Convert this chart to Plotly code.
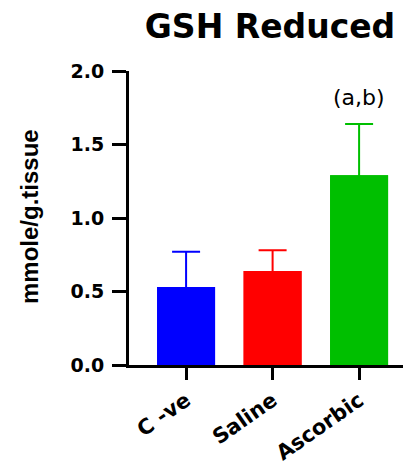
import plotly.graph_objects as go

categories = ["C -ve", "Saline", "Ascorbic"]
means = [0.53, 0.64, 1.29]
errors = [0.24, 0.14, 0.35]
colors = ["#0000FF", "#FF0000", "#00BF00"]
y_ticks = [0.0, 0.5, 1.0, 1.5, 2.0]
y_tick_text = ["0.0", "0.5", "1.0", "1.5", "2.0"]
title_text = "GSH Reduced"
y_title = "mmole/g.tissue"
sig_label = "(a,b)"

# page body has an 8px margin, so the figure is sized/positioned to compensate
OFF = 8
W, H = 411 - OFF, 466 - OFF
L, R, T = 129 - OFF, 0, 71 - OFF
B = H - (365 - OFF)
PW, PH = W - L - R, H - T - B

fig = go.Figure()
# bars with upper error whiskers (lower end hidden inside the bar)
for i, (m, e, col) in enumerate(zip(means, errors, colors)):
    fig.add_trace(go.Bar(
        x=[i], y=[m], width=0.67,
        marker=dict(color=col, line=dict(width=0)),
        error_y=dict(type="data", array=[e], arrayminus=[0.04], symmetric=False,
                     color=col, thickness=2, width=14),
        showlegend=False, hoverinfo="skip",
    ))
# covering bars
for i, (c, m, col) in enumerate(zip(categories, means, colors)):
    fig.add_trace(go.Bar(
        x=[i], y=[m], width=0.67, name=c,
        marker=dict(color=col, line=dict(width=0)),
        showlegend=False,
    ))

fig.update_layout(
    width=W, height=H, barmode="overlay",
    margin=dict(l=L, r=R, t=T, b=B, pad=0),
    paper_bgcolor="white", plot_bgcolor="white",
    title=dict(text="<b>" + title_text + "</b>", x=0.5, xref="paper",
               y=1 - (26 - OFF) / H, yref="container", xanchor="center", yanchor="middle",
               font=dict(family="DejaVu Sans", size=33, color="black")),
    xaxis=dict(
        range=[-0.66, 2.60], tickmode="array", tickvals=[0, 1, 2],
        ticktext=["<b>" + c + "</b>" for c in categories],
        tickangle=-35, ticks="outside", ticklen=12, tickwidth=3, tickcolor="black",
        showline=True, linecolor="black", linewidth=3, showgrid=False, zeroline=False,
        tickfont=dict(family="DejaVu Sans", size=21, color="black"),
    ),
    yaxis=dict(
        range=[0, 2.0], tickmode="array", tickvals=y_ticks,
        ticktext=["<b>" + t + "</b>" for t in y_tick_text],
        ticks="outside", ticklen=14, tickwidth=3, tickcolor="black",
        showline=True, linecolor="black", linewidth=3, showgrid=False, zeroline=False,
        tickfont=dict(family="DejaVu Sans", size=19, color="black"),
        ticklabelstandoff=4,
    ),
    annotations=[
        dict(text="<b>" + y_title + "</b>", textangle=-90, xref="paper", yref="paper",
             x=(29 - 129) / PW, y=(365 - 217) / PH,
             xanchor="center", yanchor="middle", showarrow=False,
             font=dict(family="Liberation Sans", size=24, color="black")),
        dict(text=sig_label, xref="x", yref="paper", x=2, y=(365 - 97) / PH,
             xanchor="center", yanchor="middle", showarrow=False,
             font=dict(family="DejaVu Sans", size=22, color="black")),
    ],
)

fig.write_html("out.html")
